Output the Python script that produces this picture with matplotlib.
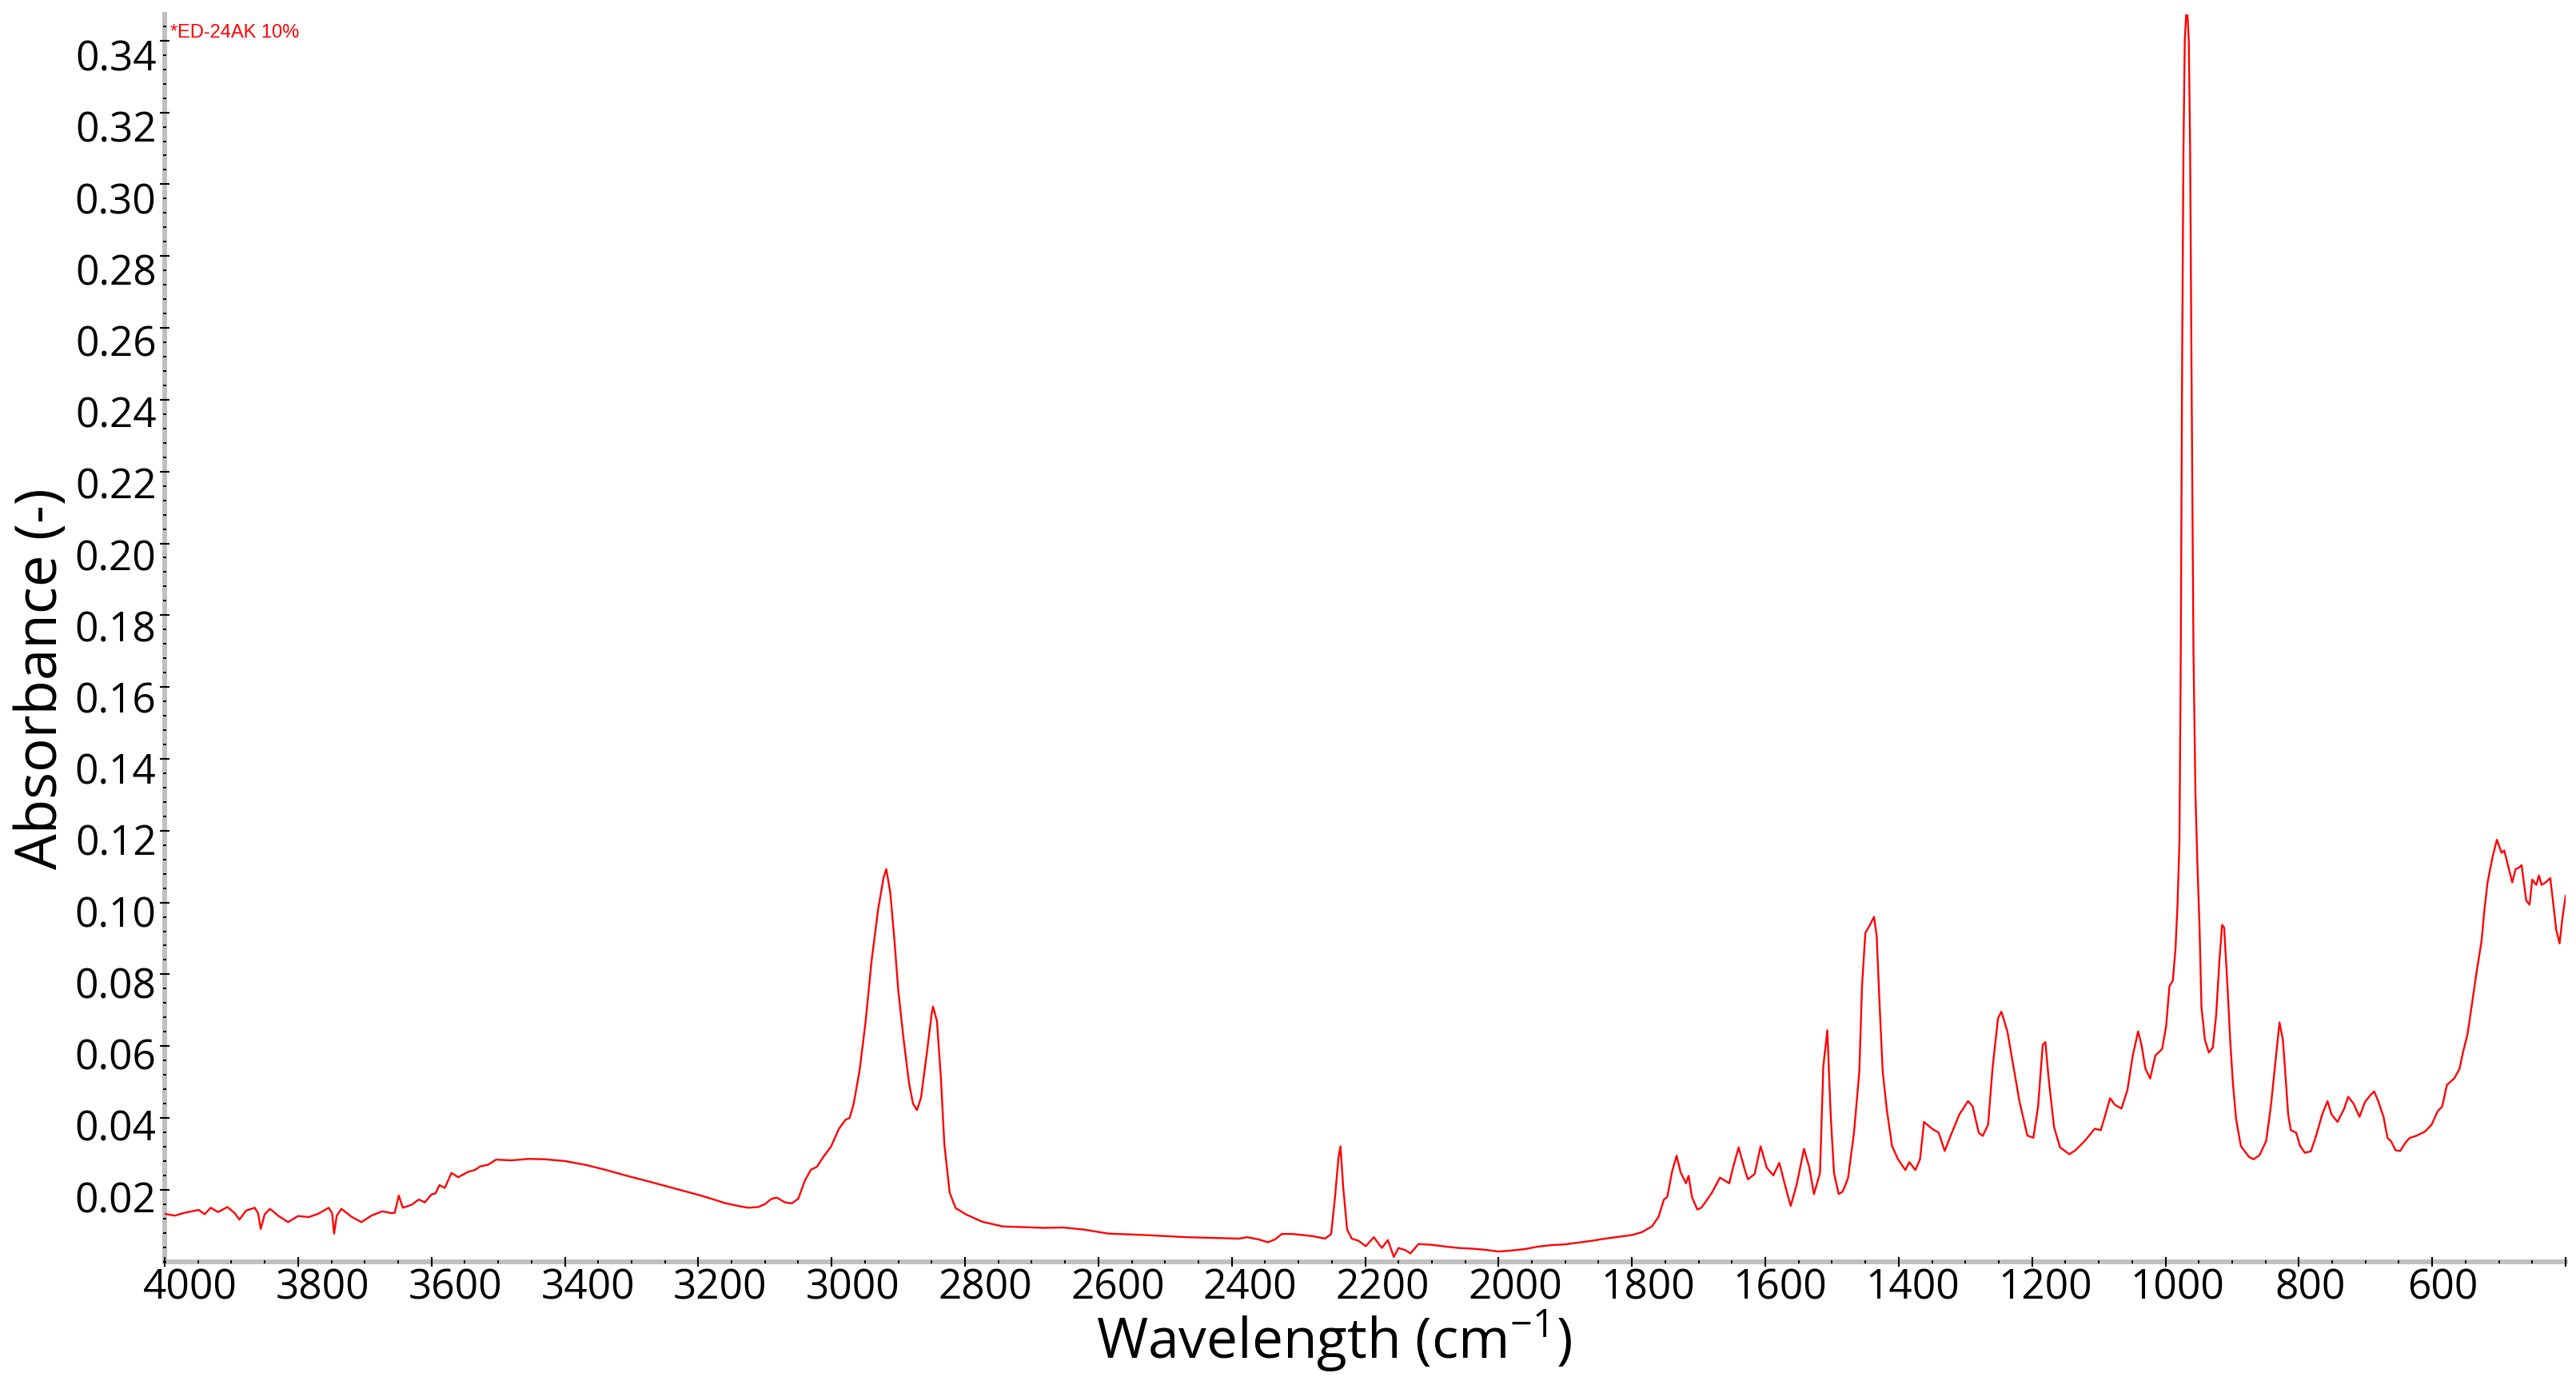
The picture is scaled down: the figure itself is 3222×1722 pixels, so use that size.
import numpy as np
import matplotlib
matplotlib.use("Agg")
import matplotlib.pyplot as plt
from matplotlib.ticker import MultipleLocator
from matplotlib.transforms import ScaledTranslation

# spectrum (wavenumber in cm-1, absorbance)
wavenumber = [
    4000, 3985, 3970, 3949, 3940, 3931, 3920, 3906, 3895, 3888, 3878, 3865, 3860, 3856, 3850,
    3842, 3830, 3815, 3800, 3784, 3770, 3754, 3749, 3746, 3742, 3735, 3720, 3705, 3690, 3674,
    3660, 3655, 3649, 3643, 3630, 3619, 3610, 3600, 3594, 3588, 3580, 3570, 3560, 3545, 3535,
    3527, 3515, 3503, 3480, 3454, 3430, 3400, 3368, 3340, 3307, 3280, 3250, 3220, 3200, 3180,
    3160, 3140, 3125, 3110, 3100, 3090, 3082, 3070, 3060, 3050, 3040, 3031, 3022, 3013, 3001,
    2989, 2979, 2973, 2967, 2958, 2949, 2940, 2930, 2922, 2918, 2912, 2906, 2900, 2892, 2884,
    2878, 2872, 2866, 2857, 2850, 2848, 2842, 2836, 2831, 2823, 2814, 2799, 2785, 2774, 2744,
    2682, 2652, 2621, 2585, 2530, 2468, 2389, 2377, 2360, 2346, 2335, 2325, 2309, 2279, 2260,
    2251, 2245, 2240, 2237, 2233, 2227, 2220, 2210, 2199, 2187, 2175, 2166, 2157, 2150, 2140,
    2132, 2120, 2101, 2080, 2060, 2040, 2020, 2000, 1980, 1960, 1940, 1920, 1900, 1880, 1860,
    1840, 1820, 1800, 1785, 1770, 1760, 1752, 1747, 1740, 1733, 1727, 1719, 1715, 1710, 1702,
    1696, 1690, 1680, 1668, 1660, 1654, 1649, 1640, 1630, 1626, 1616, 1607, 1598, 1588, 1579,
    1570, 1562, 1553, 1542, 1534, 1527, 1518, 1513, 1507, 1502, 1497, 1490, 1484, 1476, 1467,
    1459, 1455, 1450, 1443, 1437, 1433, 1429, 1424, 1418, 1410, 1401, 1390, 1384, 1375, 1368,
    1362, 1350, 1340, 1331, 1322, 1309, 1296, 1289, 1280, 1274, 1266, 1259, 1251, 1246, 1237,
    1228, 1219, 1207, 1198, 1191, 1184, 1180, 1175, 1167, 1158, 1144, 1135, 1121, 1106, 1097,
    1091, 1083, 1076, 1066, 1057, 1049, 1041, 1036, 1030, 1023, 1015, 1005, 999, 994, 989,
    985, 982, 979, 977, 975, 973, 971, 969, 967, 965, 963, 961, 958, 955, 952,
    949, 946, 943, 941, 935, 929, 924, 919, 915, 912, 907, 903, 899, 894, 887,
    875, 868, 859, 849, 842, 835, 829, 824, 821, 816, 812, 804, 798, 791, 782,
    774, 765, 757, 751, 742, 732, 726, 718, 709, 701, 693, 687, 681, 673, 667,
    662, 655, 648, 641, 634, 623, 611, 601, 592, 585, 578, 567, 559, 554, 547,
    540, 533, 526, 522, 517, 510, 503, 496, 492, 486, 480, 475, 470, 466, 459,
    454, 450, 444, 440, 436, 430, 423, 419, 414, 409, 405, 400,
]
absorbance = [
    0.0133, 0.0128, 0.0136, 0.0144, 0.0132, 0.0150, 0.0138, 0.0152, 0.0135, 0.0117, 0.0142, 0.0150, 0.0135, 0.0091, 0.0132,
    0.0147, 0.0128, 0.0110, 0.0127, 0.0124, 0.0133, 0.0150, 0.0135, 0.0078, 0.0128, 0.0147, 0.0125, 0.0110, 0.0128, 0.0140,
    0.0135, 0.0136, 0.0184, 0.0150, 0.0158, 0.0173, 0.0165, 0.0187, 0.0190, 0.0213, 0.0205, 0.0247, 0.0235, 0.0250, 0.0255,
    0.0265, 0.0270, 0.0284, 0.0282, 0.0286, 0.0285, 0.0280, 0.0269, 0.0256, 0.0239, 0.0226, 0.0211, 0.0196, 0.0186, 0.0175,
    0.0163, 0.0155, 0.0150, 0.0152, 0.0160, 0.0175, 0.0178, 0.0165, 0.0162, 0.0175, 0.0226, 0.0256, 0.0264, 0.0290, 0.0320,
    0.0370, 0.0395, 0.0400, 0.0439, 0.0533, 0.0669, 0.0839, 0.0984, 0.1070, 0.1093, 0.1027, 0.0899, 0.0754, 0.0618, 0.0498,
    0.0440, 0.0422, 0.0456, 0.0584, 0.0690, 0.0710, 0.0669, 0.0507, 0.0328, 0.0192, 0.0149, 0.0132, 0.0120, 0.0111, 0.0098,
    0.0094, 0.0095, 0.0089, 0.0078, 0.0074, 0.0068, 0.0064, 0.0068, 0.0062, 0.0054, 0.0062, 0.0077, 0.0077, 0.0071, 0.0064,
    0.0077, 0.0183, 0.0290, 0.0321, 0.0209, 0.0089, 0.0064, 0.0058, 0.0043, 0.0068, 0.0038, 0.0060, 0.0013, 0.0038, 0.0032,
    0.0023, 0.0049, 0.0047, 0.0042, 0.0038, 0.0036, 0.0033, 0.0028, 0.0031, 0.0035, 0.0042, 0.0046, 0.0048, 0.0053, 0.0058,
    0.0064, 0.0069, 0.0074, 0.0082, 0.0098, 0.0125, 0.0173, 0.0180, 0.0249, 0.0295, 0.0249, 0.0218, 0.0239, 0.0180, 0.0145,
    0.0150, 0.0165, 0.0192, 0.0234, 0.0225, 0.0218, 0.0258, 0.0318, 0.0251, 0.0229, 0.0244, 0.0321, 0.0262, 0.0240, 0.0275,
    0.0210, 0.0155, 0.0214, 0.0314, 0.0262, 0.0188, 0.0247, 0.0544, 0.0644, 0.0410, 0.0247, 0.0188, 0.0195, 0.0232, 0.0359,
    0.0530, 0.0767, 0.0915, 0.0938, 0.0960, 0.0908, 0.0730, 0.0530, 0.0426, 0.0322, 0.0285, 0.0255, 0.0277, 0.0255, 0.0285,
    0.0389, 0.0370, 0.0359, 0.0308, 0.0351, 0.0410, 0.0447, 0.0432, 0.0359, 0.0350, 0.0381, 0.0544, 0.0678, 0.0696, 0.0641,
    0.0544, 0.0447, 0.0351, 0.0345, 0.0432, 0.0604, 0.0611, 0.0507, 0.0374, 0.0318, 0.0299, 0.0310, 0.0336, 0.0370, 0.0366,
    0.0403, 0.0455, 0.0437, 0.0426, 0.0478, 0.0574, 0.0641, 0.0604, 0.0537, 0.0510, 0.0574, 0.0592, 0.0656, 0.0767, 0.0782,
    0.0870, 0.0990, 0.1170, 0.1700, 0.2500, 0.3100, 0.3400, 0.3473, 0.3473, 0.3400, 0.3100, 0.2500, 0.1700, 0.1300, 0.1101,
    0.0938, 0.0708, 0.0656, 0.0619, 0.0582, 0.0596, 0.0686, 0.0841, 0.0938, 0.0930, 0.0767, 0.0619, 0.0500, 0.0396, 0.0322,
    0.0292, 0.0285, 0.0296, 0.0336, 0.0432, 0.0559, 0.0666, 0.0619, 0.0544, 0.0410, 0.0366, 0.0359, 0.0322, 0.0303, 0.0307,
    0.0351, 0.0410, 0.0447, 0.0410, 0.0389, 0.0426, 0.0459, 0.0440, 0.0403, 0.0444, 0.0463, 0.0474, 0.0447, 0.0403, 0.0344,
    0.0336, 0.0310, 0.0308, 0.0329, 0.0344, 0.0351, 0.0362, 0.0381, 0.0418, 0.0432, 0.0492, 0.0510, 0.0537, 0.0582, 0.0634,
    0.0723, 0.0812, 0.0893, 0.0975, 0.1056, 0.1123, 0.1175, 0.1138, 0.1145, 0.1101, 0.1056, 0.1093, 0.1097, 0.1104, 0.1005,
    0.0994, 0.1064, 0.1049, 0.1075, 0.1049, 0.1056, 0.1068, 0.1005, 0.0923, 0.0886, 0.0953, 0.1019,
]

sample_name = "*ED-24AK 10%"
x_major = list(range(4000, 399, -200))
x_labels = [str(v) for v in x_major[:-1]] + [""]
y_major = [round(0.02 * i, 2) for i in range(1, 18)]
y_labels = ["%.2f" % v for v in y_major]

W, H = 3223, 1722
fig = plt.figure(figsize=(W / 100, H / 100), dpi=100)
left, right, top, bottom = 206, 3209, 18, 1577.7
ax = fig.add_axes([left / W, 1 - bottom / H, (right - left) / W, (bottom - top) / H])

ax.plot(wavenumber, absorbance, color="#ff0000", lw=1.7, zorder=3)
ax.set_xlim(4000, 400)
ax.set_ylim(0, 0.3473)

tick_font = dict(family=["Open Sans", "DejaVu Sans"], size=37)
ax.set_xticks(x_major)
ax.set_xticklabels(x_labels, **tick_font)
ax.set_yticks(y_major)
ax.set_yticklabels(y_labels, **tick_font)
ax.xaxis.set_minor_locator(MultipleLocator(50))
ax.yaxis.set_minor_locator(MultipleLocator(0.004))

ax.tick_params(which="major", direction="inout", length=9, width=1.5, color="black", pad=3)
ax.tick_params(axis="x", which="major", pad=1)
ax.tick_params(which="minor", direction="inout", length=3.5, width=1.4, color="black")

for s in ["top", "right"]:
    ax.spines[s].set_visible(False)
for s in ["left", "bottom"]:
    ax.spines[s].set_color("#c0c0c0")
    ax.spines[s].set_linewidth(4.3)
    ax.spines[s].set_zorder(1)

# the exporting program places its labels a little off the ticks
for t, v in zip(ax.xaxis.get_major_ticks(), x_major):
    dx = (32 - 19 * (4000 - v) / 3400) / 100
    t.label1.set_transform(t.label1.get_transform() + ScaledTranslation(dx, 0, fig.dpi_scale_trans))
for t, v in zip(ax.yaxis.get_major_ticks(), y_major):
    dy = -(8.7 + (v - 0.02) / 0.32 * 9.6) / 100
    t.label1.set_transform(t.label1.get_transform() + ScaledTranslation(0, dy, fig.dpi_scale_trans))

label_font = dict(family=["Open Sans", "DejaVu Sans"], size=50)
ax.set_xlabel("Wavelength (cm$^{\\mathregular{-1}}$)", va="baseline", **label_font)
ax.xaxis.set_label_coords((1668 - left) / (right - left), (bottom - 1699) / (bottom - top))
ax.set_ylabel("Absorbance (-)", va="center", size=51, family=["Open Sans", "DejaVu Sans"])
ax.yaxis.set_label_coords((52 - left) / (right - left), (bottom - 849) / (bottom - top))

ax.text((213 - left) / (right - left), (bottom - 46.7) / (bottom - top), sample_name,
        transform=ax.transAxes, color="#ff0000", fontsize=17,
        family=["Liberation Sans", "DejaVu Sans"], va="baseline", ha="left")

fig.savefig("out.png", dpi=100, facecolor="white")
